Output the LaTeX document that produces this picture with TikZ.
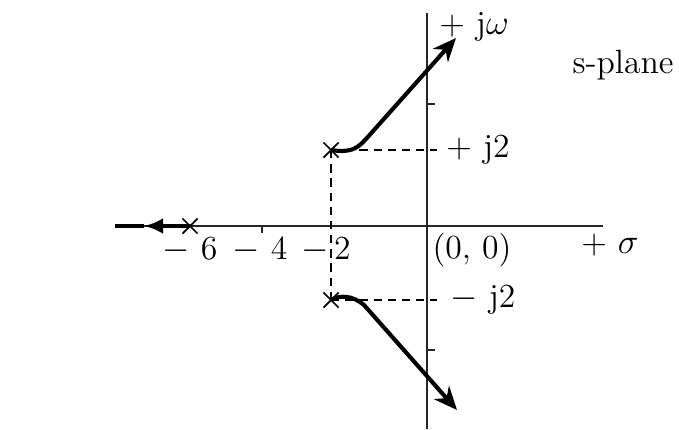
\documentclass[tikz,border=0pt]{standalone}
\usetikzlibrary{arrows.meta, shapes.misc}
\begin{document}
\begin{tikzpicture}[x=0.12mm, y=-0.12mm, every node/.style={font=\fontsize{11.5}{13}\selectfont},
   ax/.style={line width=0.55pt, color=black!85},
   pole/.style={cross out, draw, line width=0.6pt, minimum size=1.6mm, inner sep=0pt},
   locus/.style={line width=1.4pt, -{Stealth[length=2.8mm, width=2.4mm, inset=0.9mm]}},
   guide/.style={line width=0.55pt, dash pattern=on 1mm off 0.7mm}]
  \useasboundingbox (0,0) rectangle (679,429);
  % axes
  \coordinate (sl) at (115,226);
  \coordinate (sr) at (603,226);
  \coordinate (wt) at (427,13);
  \coordinate (wb) at (427,429);
  \draw[ax] (sl) -- (sr);
  \draw[ax] (wt) -- (wb);
  \draw[ax] (262,226) -- (262,233);
  \foreach \y in {104,350} \draw[ax] (427,\y) -- (435,\y);
  % poles
  \node[pole] (pa) at (190,226) {};
  \node[pole] (pb) at (331,150) {};
  \node[pole] (pc) at (331,300) {};
  % guide lines
  \coordinate (gb) at (437,150);
  \coordinate (gc) at (437,300);
  \draw[guide] (pb.center) -- (gb);
  \draw[guide] (pc.center) -- (gc);
  \draw[guide] (pb.center) -- (pc.center);
  % loci
  \coordinate (lm) at (144,226);
  \draw[locus, -{Latex[length=2.3mm, width=1.9mm]}] (pa.center) -- (lm);
  \draw[line width=1.4pt] (lm) -- (sl);
  \coordinate (ub) at (456,38);
  \coordinate (lb) at (457,410);
  \draw[locus] (pb.center) .. controls (350,153) and (357,149) .. (366,139) -- (ub);
  \draw[locus] (pc.center) .. controls (340,295) and (352,295) .. (364,305) -- (lb);
  % labels
  \node (l6) at (190,250) {$-$ 6};
  \node (l4) at (260,250) {$-$ 4};
  \node (l2) at (326,250) {$-$\,2};
  \node (lo) at (472,250) {(0, 0)};
  \node (ls) at (610,245) {+ $\sigma$};
  \node (lw) at (474,27) {+ j$\omega$};
  \node (lp) at (623,65) {s-plane};
  \node (lj) at (478,150) {+ j2};
  \node (lk) at (483,300) {$-$ j2};
\end{tikzpicture}
\end{document}
